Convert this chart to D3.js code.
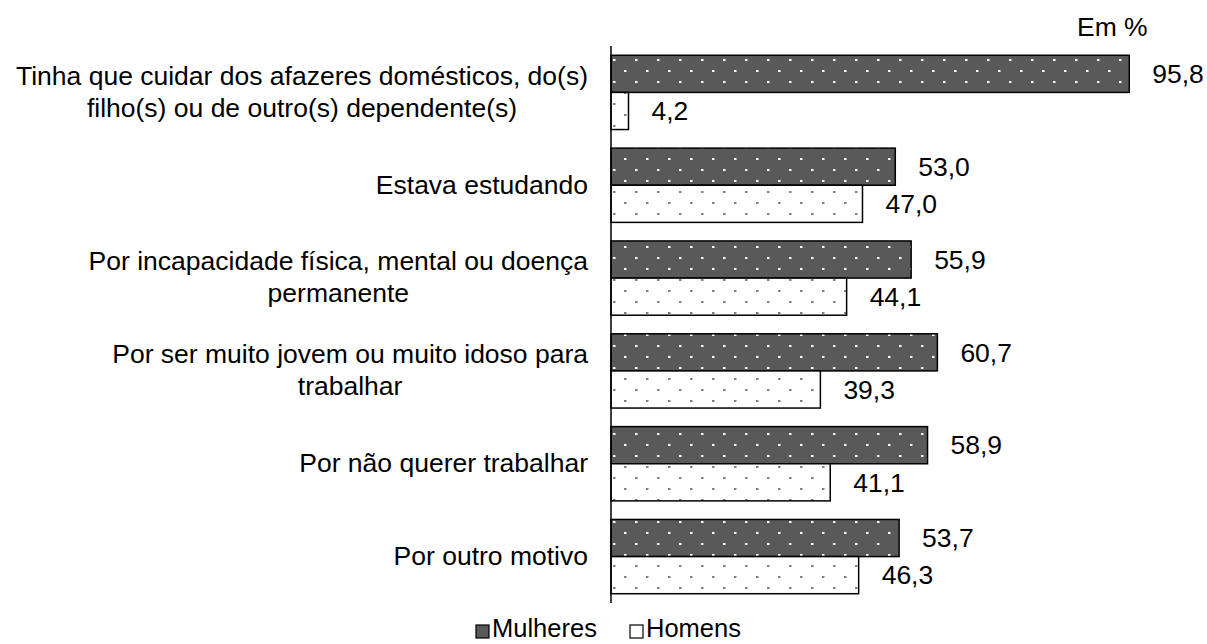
<!DOCTYPE html>
<html>
<head>
<meta charset="utf-8">
<script src="https://cdn.jsdelivr.net/npm/d3@7"></script>
<style>
  html, body { margin: 0; padding: 0; background: #fff; }
  svg text { font-family: "Liberation Sans", Arial, sans-serif; fill: #000; }
</style>
</head>
<body>
<svg id="chart" width="1207" height="644"></svg>
<script>
const categories = [
  ["Tinha que cuidar dos afazeres domésticos, do(s)", "filho(s) ou de outro(s) dependente(s)"],
  ["Estava estudando"],
  ["Por incapacidade física, mental ou doença", "permanente"],
  ["Por ser muito jovem ou muito idoso para", "trabalhar"],
  ["Por não querer trabalhar"],
  ["Por outro motivo"]
];
const mulheres = [95.8, 53.0, 55.9, 60.7, 58.9, 53.7];
const homens = [4.2, 47.0, 44.1, 39.3, 41.1, 46.3];
const seriesNames = ["Mulheres", "Homens"];
const unitLabel = "Em %";

const svg = d3.select("#chart");
const FS = 26.5;

const defs = svg.append("defs");
function makePattern(id, bg, dot) {
  const p = defs.append("pattern").attr("id", id)
    .attr("patternUnits", "userSpaceOnUse")
    .attr("width", 22).attr("height", 22)
    .attr("x", 8).attr("y", 4);
  p.append("rect").attr("width", 22).attr("height", 22).attr("fill", bg);
  p.append("rect").attr("x", 0).attr("y", 0).attr("width", 2.5).attr("height", 2).attr("fill", dot);
  p.append("rect").attr("x", 11).attr("y", 11).attr("width", 2.5).attr("height", 2).attr("fill", dot);
}
makePattern("patDark", "#595959", "#ffffff");
makePattern("patLight", "#ffffff", "#808080");

const axisMin = 1;
const x = d3.scaleLinear().domain([axisMin, 100]).range([611, 611 + 99 * 5.467]);
const y = d3.scaleBand().domain(d3.range(categories.length))
  .range([46, 603]).paddingInner(0.2).paddingOuter(0.1);
const bw = y.bandwidth() / 2;

const fills = ["url(#patDark)", "url(#patLight)"];
const series = [mulheres, homens];

series.forEach((vals, s) => {
  const g = svg.append("g");
  g.selectAll("rect").data(vals).join("rect")
    .attr("x", x(axisMin))
    .attr("y", (d, i) => y(i) + s * bw)
    .attr("width", d => x(d) - x(axisMin))
    .attr("height", bw)
    .attr("fill", fills[s])
    .attr("stroke", "#000")
    .attr("stroke-width", 1.5);
  g.selectAll("text").data(vals).join("text")
    .attr("x", d => x(d) + 23)
    .attr("y", (d, i) => y(i) + s * bw + bw / 2)
    .attr("dy", "0.35em")
    .attr("font-size", FS)
    .text(d => d.toFixed(1).replace(".", ","));
});

// axis line
svg.append("line")
  .attr("x1", x(axisMin)).attr("x2", x(axisMin))
  .attr("y1", 46).attr("y2", 603)
  .attr("stroke", "#000").attr("stroke-width", 1.5);

// category labels
const lineH = 32;
const rightEdge = 588;
categories.forEach((lines, i) => {
  const cy = y(i) + y.bandwidth() / 2 - 1;
  const g = svg.append("g");
  const t = g.append("text").attr("font-size", FS).attr("text-anchor", "middle");
  lines.forEach((ln, k) => {
    t.append("tspan").attr("x", 0)
      .attr("y", cy + (k - (lines.length - 1) / 2) * lineH)
      .attr("dy", "0.35em").text(ln);
  });
  const w = d3.max(t.selectAll("tspan").nodes(), n => n.getComputedTextLength());
  t.selectAll("tspan").attr("x", rightEdge - w / 2);
});

// unit label
svg.append("text").attr("x", 1077).attr("y", 27).attr("dy", "0.35em")
  .attr("font-size", FS).text(unitLabel);

// legend
const legX = [476, 630];
seriesNames.forEach((nm, s) => {
  svg.append("rect").attr("x", legX[s]).attr("y", 625).attr("width", 13).attr("height", 13)
    .attr("fill", s === 0 ? "#595959" : "#fff").attr("stroke", "#000").attr("stroke-width", 1.2);
  svg.append("text").attr("x", legX[s] + 16).attr("y", 637)
    .attr("font-size", 25.5).text(nm);
});
</script>
</body>
</html>
